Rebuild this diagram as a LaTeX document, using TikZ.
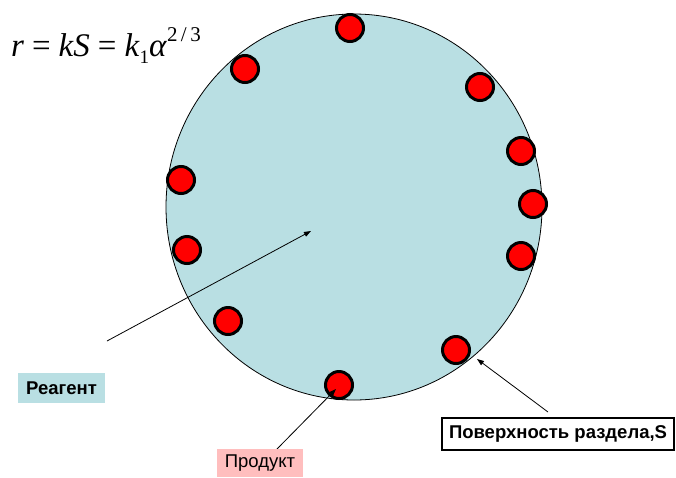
\documentclass[tikz,border=0pt]{standalone}
\usepackage{fontspec}
\setmainfont{Liberation Sans}
\newfontfamily\tmsfont{Liberation Serif}
\usetikzlibrary{arrows.meta,shapes.geometric}
\definecolor{reag}{RGB}{185,223,227}
\definecolor{prod}{RGB}{255,190,190}
\begin{document}
\begin{tikzpicture}[x=1pt,y=-1pt,
  particle/.style={circle, draw=black, fill=red, line width=3pt, minimum size=27pt, inner sep=0pt},
  conn/.style={line width=0.8pt, -{Triangle[length=7pt,width=5pt]}},
  lbl/.style={inner sep=0pt, font=\fontsize{18.5}{22}\selectfont}
]
\useasboundingbox (0,0) rectangle (676,477);
\node[draw, ellipse, fill=reag, line width=0.8pt, minimum width=376pt, minimum height=386pt, inner sep=0pt] (drop) at (354,207) {};
\foreach \n/\x/\y in {1/350/28, 2/245/69, 3/480/87, 4/521/151, 5/533/204, 6/521/256, 7/181/180, 8/187/250, 9/228/321, 10/456/350, 11/339/385}
  \node[particle] (p\n) at (\x,\y) {};
\node[anchor=base west, inner sep=0pt, font=\tmsfont\fontsize{33}{40}\selectfont] (formula) at (11,56)
  {\textit{r}\hspace{8pt}=\hspace{8pt}\textit{kS}\hspace{8pt}=\hspace{8pt}\textit{k}\raisebox{-7pt}{\fontsize{19}{24}\selectfont 1}\textit{α}\raisebox{15pt}{\fontsize{21}{24}\selectfont 2\,/\,3}};
\coordinate (rstart) at (107,341);
\coordinate (rtip) at (311,231);
\coordinate (pstart) at (277,449);
\coordinate (ptip) at (336,389);
\coordinate (sstart) at (548,412);
\coordinate (stip) at (477,359);
\draw[conn] (rstart) -- (rtip);
\draw[conn] (pstart) -- (ptip);
\draw[conn] (sstart) -- (stip);
\node[lbl, fill=reag, font=\bfseries\fontsize{18.5}{22}\selectfont, minimum width=87pt, minimum height=30pt] (reagent) at (61.5,388) {Реагент};
\node[lbl, fill=prod, minimum width=86pt, minimum height=28pt] (product) at (260,463) {Продукт};
\node[lbl, draw, line width=1.3pt, fill=white, font=\bfseries\fontsize{18.5}{22}\selectfont, minimum width=232pt, minimum height=32pt] (surface) at (558,434) {Поверхность раздела,S};
\end{tikzpicture}
\end{document}
